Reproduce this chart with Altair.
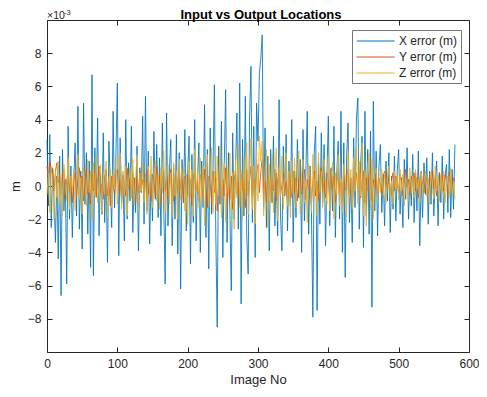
import altair as alt
import pandas as pd

# values in units of 1e-3 m, one sample every 2 images
x_err = [
    2.8, -1.2, 3.1, -2.5, 1.0, -0.8, -3.4, 0.6, -4.4, 1.8,
    -6.6, 2.2, -1.5, 0.4, -5.9, 3.6, -2.0, 1.2, -3.1, 0.3,
    2.6, -1.8, 4.8, -2.6, 0.9, -3.8, 5.0, -1.1, 2.0, -2.9,
    1.5, -4.9, 6.7, -5.4, 2.3, -0.6, 4.1, -3.0, 0.8, -1.7,
    3.2, -2.2, 1.0, -4.6, 2.7, 0.2, -2.5, 4.5, -1.3, 1.9,
    6.2, -4.2, 2.9, -1.0, 0.6, -3.3, 4.0, -2.0, 1.4, -0.9,
    3.6, -2.8, 0.5, -1.6, 2.4, -3.9, 1.1, -0.4, 4.2, -2.3,
    5.4, -1.5, 2.1, -3.5, 0.7, -2.1, 3.3, -0.8, 2.5, -1.9,
    1.7, -3.0, 3.8, -1.2, -5.9, 4.4, -2.4, 0.9, 2.8, -3.6,
    1.3, -2.0, 3.1, -4.1, 2.0, -6.2, 1.6, -1.0, 3.4, -2.7,
    0.8, 3.0, -4.7, 1.9, -2.2, 4.0, -3.3, 0.4, 2.6, -4.0,
    1.5, -1.3, 4.9, -3.1, 2.2, -5.0, 3.5, -1.7, 0.9, 6.1,
    -2.9, -8.5, 2.4, -1.1, 3.9, -4.3, 1.2, 5.8, -3.4, 2.0,
    -1.5, -6.3, 3.2, -2.0, 1.0, 4.4, -2.6, 6.2, -7.1, 2.8,
    -1.8, 5.4, -3.0, -5.3, 4.1, 7.2, -2.2, 3.6, -4.3, 5.0,
    2.7, 6.8, 7.7, 9.1, -1.4, 3.5, -2.5, 1.8, -3.9, 2.2,
    -1.0, 3.0, -2.4, 0.8, -3.0, 5.2, -1.8, -3.9, 2.4, -0.6,
    3.1, -2.7, 1.5, -1.2, 4.0, -3.4, 0.9, -1.9, 2.8, -0.7,
    1.6, -4.0, 3.4, -2.1, 0.7, 4.5, -2.9, 1.2, -1.6, -7.9,
    2.0, 3.6, -7.5, 1.4, -2.3, 3.2, -1.0, 2.5, -3.6, 0.6,
    4.2, -2.4, 1.1, -1.5, 3.6, -3.1, 0.8, 2.7, -2.0, 4.5,
    -4.0, 2.6, -5.5, 1.7, 3.8, -2.2, 0.5, -3.4, 2.9, -1.3,
    4.1, 5.3, -2.6, 1.4, 3.0, -3.7, 4.5, -1.8, 2.2, -2.9,
    3.3, -7.3, 5.1, -1.5, 2.1, -3.0, 1.2, 2.5, -1.6, 0.7,
    -2.4, 1.5, -0.9, 2.0, -2.8, 0.6, -1.4, 1.8, -2.1, 0.9,
    2.2, -1.7, 0.5, -2.5, 1.6, -0.8, 2.3, -2.0, 0.4, -1.2,
    1.9, -2.2, 0.8, -1.5, 2.1, -3.6, 0.6, -1.9, 1.4, -0.5,
    1.7, -2.3, 0.9, -1.1, 2.0, -1.8, 0.3, 1.5, -2.4, 0.8,
    -1.0, 1.8, -2.0, 0.6, 1.3, -1.6, 2.2, -1.9, 1.0, -1.4,
    2.5,
]

y_err = [
    1.2, 0.4, 1.5, 0.8, 1.1, -0.3, 0.9, 1.4, 0.2, 0.7,
    -0.5, 0.6, 1.0, -0.8, 0.3, 0.9, -0.4, 0.5, -1.0, 0.2,
    0.8, -0.6, 0.4, 1.1, -0.2, 0.6, -0.9, 0.3, 1.0, -0.5,
    0.2, -1.1, 0.7, -0.3, 0.9, -0.7, 0.4, 1.2, -0.4, 0.1,
    -0.8, 0.5, 0.9, -0.6, 0.3, -1.2, 0.6, 0.2, -0.5, 0.8,
    1.0, -0.3, 0.4, -0.9, 0.7, 0.1, -0.6, 1.1, -0.2, 0.5,
    -0.7, 0.8, 0.3, -1.0, 0.6, -0.4, 0.9, -0.1, 0.4, -0.8,
    0.5, 1.0, -0.5, 0.2, -0.9, 0.7, 0.3, -0.6, 1.2, -0.2,
    0.6, -1.1, 0.4, 0.9, -0.3, 0.5, -0.8, 0.2, 1.0, -0.4,
    -0.9, 0.3, 0.7, -0.5, 1.1, -0.2, 0.4, -1.0, 0.6, 0.1,
    -0.6, 0.9, 0.2, -1.2, 0.5, 0.8, -0.3, 0.4, -0.9, 0.7,
    0.3, -0.7, 1.0, -0.2, -1.3, 0.6, 0.2, -0.8, 0.9, -0.4,
    0.5, -1.5, 0.3, 0.8, -1.0, 0.4, -0.6, 1.1, -1.2, 0.2,
    -0.8, 0.6, -1.4, 0.3, 0.9, -0.5, 0.2, -1.1, 0.7, -0.3,
    0.4, -1.3, 1.0, -0.6, 0.3, 1.2, -0.9, 0.5, -0.2, 0.8,
    1.3, -0.4, 0.9, 1.6, -0.7, 0.3, -1.0, 0.6, 0.2, -0.8,
    0.5, -0.3, 1.0, -0.9, 0.4, 0.7, -0.6, 0.1, 0.8, -0.5,
    0.3, -1.0, 0.6, 0.2, -0.7, 0.9, -0.4, 0.5, -0.9, 0.4,
    0.7, -0.5, 0.2, 1.0, -0.8, 0.4, -0.2, 0.6, -1.1, 0.3,
    0.9, -0.6, 0.3, -0.9, 0.5, 1.1, -0.3, 0.2, -0.7, 0.8,
    0.4, -0.8, 1.0, -0.2, 0.6, -1.0, 0.3, 0.9, -0.5, 0.2,
    -0.9, 0.7, -0.3, 0.5, 1.0, -0.6, 0.4, -1.2, 0.6, 0.1,
    0.8, -0.4, 1.1, -0.7, 0.3, 0.9, -1.0, 0.5, -0.3, 0.7,
    1.2, -0.9, 0.4, -0.2, 0.8, -0.6, 0.5, 0.1, -0.4, 0.6,
    0.9, 0.3, -0.2, 0.7, -0.5, 0.4, 0.8, -0.3, 0.6, 0.2,
    -0.4, 0.7, 0.3, -0.6, 0.5, 1.0, -0.1, 0.4, -0.5, 0.6,
    0.2, 0.8, -0.3, 0.5, -0.7, 0.4, 0.9, 0.1, -0.4, 0.6,
    0.3, -0.5, 0.7, 0.2, 0.9, -0.2, 0.5, -0.6, 0.4, 0.8,
    0.1, 0.6, -0.3, 0.7, 0.4, -0.5, 0.8, 0.2, -0.2, 0.5,
    0.3,
]

z_err = [
    -0.5, 0.8, -1.6, 1.2, 0.3, -2.0, 0.9, -0.7, 1.5, -1.1,
    0.4, -1.8, 1.3, 0.2, -0.9, 1.7, -1.4, 0.6, -0.3, 1.0,
    -1.5, 0.7, 1.9, -0.8, 0.5, -1.7, 1.1, 0.3, -1.2, 1.6,
    -0.4, 0.9, -2.1, 1.4, -0.6, 1.8, -1.0, 0.2, 1.3, -1.6,
    0.8, -0.5, 1.5, -1.9, 0.4, 1.0, -1.3, 0.7, -0.2, 1.7,
    -1.1, 0.5, 2.0, -1.4, 0.9, -0.6, 1.2, -1.8, 0.3, 1.1,
    -0.7, 1.6, -1.2, 0.4, 1.9, -1.5, 0.8, -0.3, 1.4, -1.0,
    0.6, -1.7, 1.2, -0.5, 1.8, -1.3, 0.2, 1.5, -0.9, 0.7,
    -1.4, 1.1, -0.4, 2.1, -1.6, 0.5, 1.3, -1.1, 0.8, -1.9,
    1.4, -0.6, 0.9, -2.0, 1.6, -0.8, 0.4, 1.2, -1.5, 0.7,
    -2.3, 1.5, -0.7, 1.0, -1.8, 2.2, -0.5, 0.8, -1.3, 1.7,
    -0.9, 1.2, -2.4, 0.6, 1.9, -1.2, 0.4, 2.3, -1.6, 0.9,
    -1.1, 1.8, -0.6, 2.4, -1.9, 0.7, 1.4, -2.2, 1.0, -0.4,
    2.0, -1.5, 0.8, -2.6, 1.6, -0.7, 2.5, -1.3, 0.9, -2.0,
    1.7, -0.8, 2.6, -1.7, 0.6, 2.9, -1.4, 1.2, -2.3, 2.1,
    -0.9, 3.0, 1.5, 2.7, -1.8, 0.8, 2.2, -2.5, 1.3, -1.0,
    1.9, -1.6, 0.7, 2.3, -2.1, 1.1, -0.6, 1.8, -1.4, 0.5,
    2.0, -1.2, 0.9, -1.9, 1.5, -0.5, 1.7, -1.3, 0.6, 2.1,
    -1.7, 0.8, 1.6, -1.0, 0.4, -2.2, 1.3, 0.7, -1.5, 1.9,
    -0.8, 1.2, -1.8, 2.0, -0.4, 0.9, -1.3, 1.6, 0.3, -1.1,
    1.8, -1.5, 0.6, 1.4, -2.0, 0.8, -0.5, 1.9, -1.2, 0.4,
    -1.6, 1.3, 0.5, -1.9, 2.1, -0.7, 1.0, -1.4, 1.7, -0.3,
    2.3, -1.1, 1.5, -0.6, 2.6, -1.8, 0.9, -2.4, 1.2, 2.0,
    -1.3, 1.6, -2.0, 0.7, 1.1, -0.9, 0.5, -0.4, 1.0, -0.6,
    0.8, -1.0, 0.4, 1.2, -0.7, 0.3, -1.1, 0.9, -0.2, 0.6,
    -0.8, 1.0, -0.3, 0.7, -1.2, 0.5, 0.2, -0.9, 1.1, -0.4,
    0.6, -0.7, 1.0, -0.2, 0.4, -1.0, 0.8, -0.5, 0.3, 0.9,
    -0.6, 0.5, -1.1, 0.8, 0.1, -0.8, 1.2, -0.3, 0.6, -0.9,
    0.7, -0.4, 0.9, -1.0, 0.3, 0.6, -0.7, 1.1, -0.5, 0.2,
    -0.8,
]

image_no = list(range(0, 2 * len(x_err), 2))
series_names = ["X error (m)", "Y error (m)", "Z error (m)"]
series_colors = ["#0072BD", "#D95319", "#EDB120"]
x_ticks = [0, 100, 200, 300, 400, 500, 600]
y_ticks = [-8, -6, -4, -2, 0, 2, 4, 6, 8]
title_text = "Input vs Output Locations"

df = pd.DataFrame({"img": image_no, "X": x_err, "Y": y_err, "Z": z_err})

FONT = "Liberation Sans"
AX = "#262626"
W, H = 422, 332

xs = alt.Scale(domain=[0, 600], nice=False, zero=False)
ys = alt.Scale(domain=[-10, 10], nice=False, zero=False)
cs = alt.Scale(domain=series_names, range=series_colors)

common_axis = dict(offset=-5, tickSize=5, domain=False, grid=False,
                   tickColor=AX, labelColor=AX, titleColor=AX,
                   labelFont=FONT, titleFont=FONT, labelFontSize=12,
                   titleFontSize=13, titleFontWeight="normal",
                   labelFlush=False)

x_bottom = alt.X("img:Q", scale=xs, axis=alt.Axis(
    orient="bottom", values=x_ticks, labelPadding=6, title="Image No",
    titlePadding=4, **common_axis))
y_left = alt.Y("X:Q", scale=ys, axis=alt.Axis(
    orient="left", values=y_ticks, labelPadding=6, title="m",
    titlePadding=5, **common_axis))
x_top = alt.X("img:Q", scale=xs, axis=alt.Axis(
    orient="top", values=x_ticks, labels=False, title=None, **common_axis))
y_right = alt.Y("Y:Q", scale=ys, axis=alt.Axis(
    orient="right", values=y_ticks, labels=False, title=None, **common_axis))

legend = alt.Legend(
    title=None, orient="none", legendX=305, legendY=10,
    symbolType="M-1,0H5", symbolSize=160, symbolStrokeWidth=1,
    labelOffset=29, labelFont=FONT, labelFontSize=12, labelColor=AX,
    strokeColor="#777777", fillColor="white", padding=4, rowPadding=3,
    symbolFillColor="transparent")

color_enc = alt.Color("series:N", scale=cs, legend=legend)

SW = 0.85
lx = alt.Chart(df).transform_calculate(series="'%s'" % series_names[0]).mark_line(
    strokeWidth=SW).encode(x=x_bottom, y=y_left, color=color_enc)
ly = alt.Chart(df).transform_calculate(series="'%s'" % series_names[1]).mark_line(
    strokeWidth=SW).encode(x=x_top, y=y_right, color=color_enc)
lz = alt.Chart(df).transform_calculate(series="'%s'" % series_names[2]).mark_line(
    strokeWidth=SW).encode(
    x=alt.X("img:Q", scale=xs, axis=None),
    y=alt.Y("Z:Q", scale=ys, axis=None),
    color=color_enc)

one = df.head(1)
title_mark = alt.Chart(one).mark_text(
    font=FONT, fontSize=13, fontWeight="bold", color="#000000",
    align="center", baseline="middle").encode(
    x=alt.value(W / 2 + 3), y=alt.value(-5.5), text=alt.value(title_text))
exp_base = alt.Chart(one).mark_text(
    font=FONT, fontSize=10.5, color=AX, align="left", baseline="middle").encode(
    x=alt.value(0), y=alt.value(-4.5), text=alt.value("×10"))
exp_sup = alt.Chart(one).mark_text(
    font=FONT, fontSize=7.5, color=AX, align="left", baseline="middle").encode(
    x=alt.value(17), y=alt.value(-7.5), text=alt.value("-3"))

chart = alt.layer(lx, ly, lz, title_mark, exp_base, exp_sup).resolve_axis(
    x="independent", y="independent").properties(
    width=W, height=H,
    autosize=alt.AutoSizeParams(type="none"),
    padding={"left": 39, "top": 12, "right": 10, "bottom": 37},
    background="white",
).configure_view(stroke=AX, strokeWidth=1)

chart.save("out.html", embed_options={"renderer": "svg", "actions": False})
